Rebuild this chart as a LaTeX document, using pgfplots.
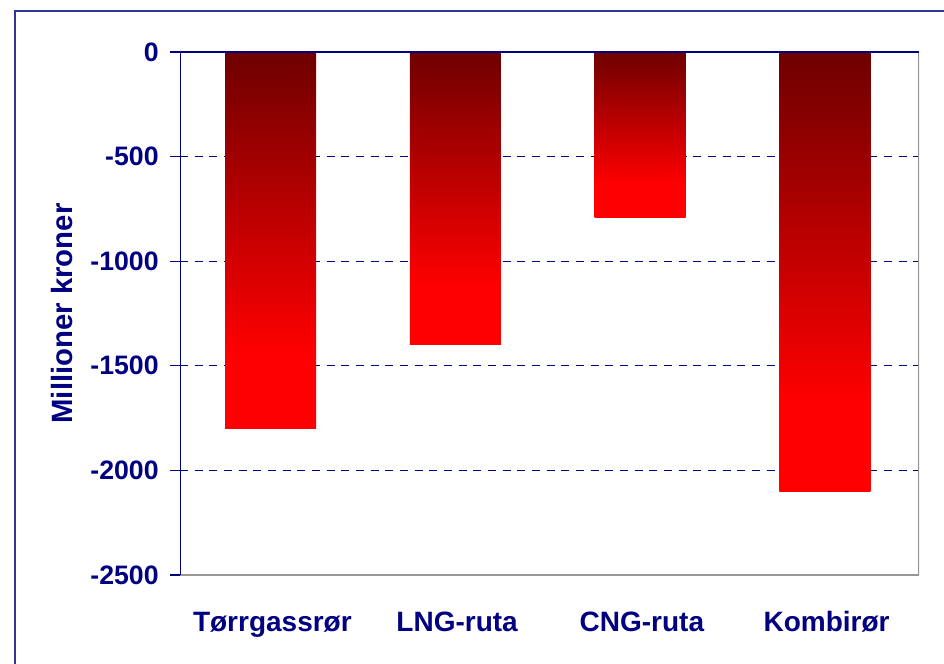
\documentclass[border=0pt]{standalone}
\usepackage{pgfplots}
\pgfplotsset{compat=1.18}
\usepackage{fontspec}
\setmainfont{Liberation Sans}
\definecolor{navy}{RGB}{0,0,128}
\definecolor{framec}{RGB}{51,51,153}
\definecolor{darkr}{RGB}{110,0,0}
\definecolor{brightr}{RGB}{255,0,0}
\definecolor{plotgray}{RGB}{150,150,150}
\pgfdeclareverticalshading{barshade}{100bp}{color(0bp)=(brightr); color(25bp)=(brightr); color(35bp)=(brightr); color(75bp)=(darkr); color(100bp)=(darkr)}
\begin{document}
\begin{tikzpicture}[x=0.75pt,y=0.75pt]
\useasboundingbox (0,0) rectangle (944,663);
\draw[framec, line width=1.5pt] (15,-10) -- (15,652) -- (960,652);
\begin{axis}[
  at={(135pt,66pt)}, anchor=south west,
  scale only axis, width=554.25pt, height=392.25pt,
  xmin=-0.5, xmax=3.5, ymin=-2500, ymax=0,
  xtick={0,1,2,3},
  xticklabels={Tørrgassrør,LNG-ruta,CNG-ruta,Kombirør},
  ytick={-2500,-2000,-1500,-1000,-500,0},
  yticklabels={-2500,-2000,-1500,-1000,-500,0},
  ytick pos=left, tick align=outside, major tick length=7.5pt,
  x tick style={draw=none},
  y tick style={navy, line width=1pt},
  axis line style={draw=none},
  ymajorgrids, grid style={navy, dash pattern=on 6pt off 5pt, line width=0.75pt},
  ticklabel style={font=\fontsize{21}{25}\selectfont\bfseries, text=navy},
  yticklabel style={xshift=-5pt, font=\fontsize{20}{24}\selectfont\bfseries},
  xticklabel style={anchor=base, yshift=-35pt},
  ylabel={Millioner kroner},
  ylabel style={at={(axis description cs:-0.16,0.5)}, anchor=center, rotate=0,
    font=\fontsize{22}{26}\selectfont\bfseries, text=navy},
  bar width=68.25pt, bar shift=0pt,
  bstyle/.style={ybar, draw=none, shading=barshade, mark=none},
]
\addplot[bstyle] coordinates {(-0.01,-1800)};
\addplot[bstyle] coordinates {(0.99,-1400)};
\addplot[bstyle] coordinates {(1.99,-790)};
\addplot[bstyle] coordinates {(2.99,-2100)};
\draw[plotgray, line width=1.5pt] (rel axis cs:0,0) -- (rel axis cs:1,0) -- (rel axis cs:1,1);
\draw[navy, line width=1pt] (rel axis cs:0,0) -- (rel axis cs:0,1) -- (rel axis cs:1,1);
\end{axis}
\end{tikzpicture}
\end{document}
